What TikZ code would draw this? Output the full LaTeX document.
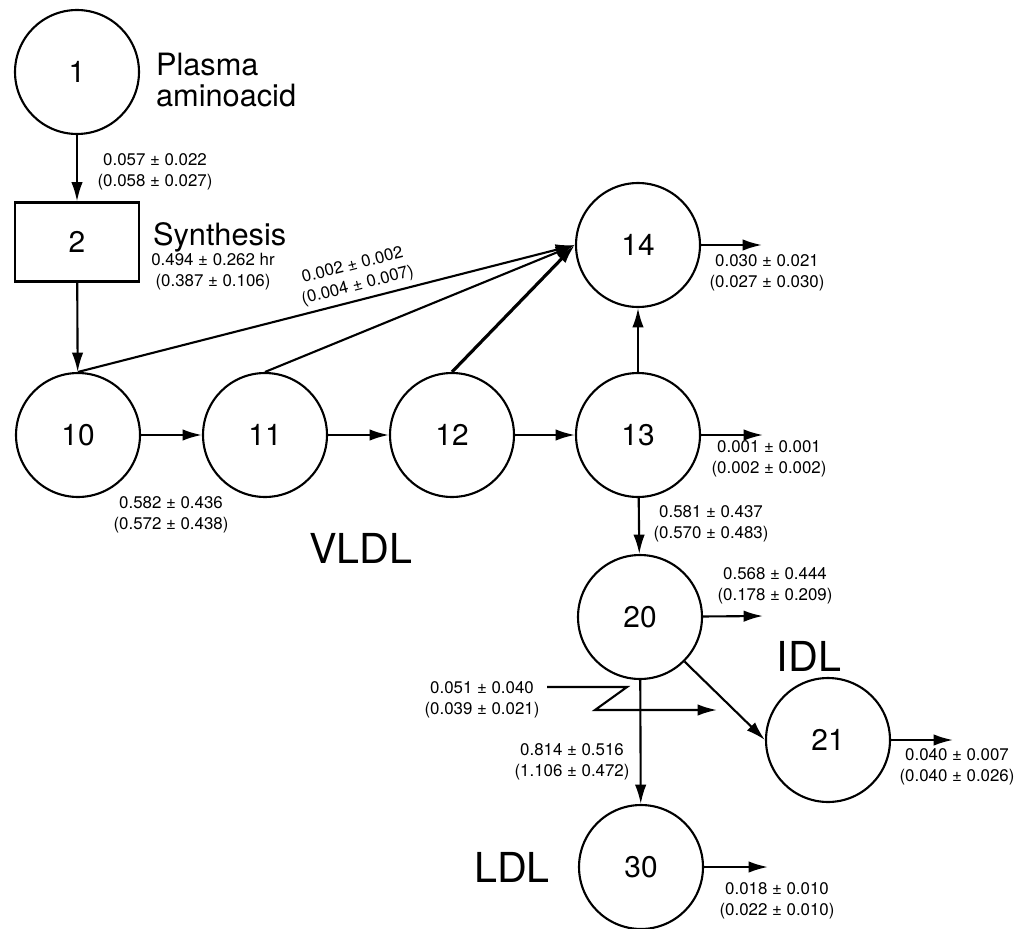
\documentclass[tikz,border=0pt]{standalone}
\usepackage{fontspec}
\setmainfont{TeX Gyre Heros}
\usetikzlibrary{arrows.meta,positioning,calc}

\begin{document}
\begin{tikzpicture}[x=0.02cm, y=-0.02cm, >={Latex[length=11pt,width=6.5pt]}, line width=1.2pt,
    pool/.style={draw, circle, minimum size=2.48cm, inner sep=0pt, font=\fontsize{17}{18}\selectfont},
    rate/.style={align=center, inner sep=1pt, font=\fontsize{9.6}{11.8}\selectfont},
    tag/.style={font=\fontsize{23.5}{26}\selectfont}]
    \useasboundingbox (0,0) rectangle (1017,929);

    % plasma and synthesis
    \node[pool] (c1) at (77,72) {1};
    \node[draw, minimum width=2.48cm, minimum height=1.58cm, font=\fontsize{17}{18}\selectfont] (b2) at (77,242) {2};
    \node[anchor=west, align=left, inner sep=0pt, font=\fontsize{17.5}{17.5}\selectfont] (plasma) at (155,80) {Plasma\\aminoacid};
    \node[anchor=base west, inner sep=0pt, font=\fontsize{17.5}{18}\selectfont] (synth) at (152,245) {Synthesis};
    \node[rate] (hr) at (213,272) {0.494 ± 0.262 hr\\(0.387 ± 0.106)};

    % VLDL pools
    \node[pool] (c10) at (78,435) {10};
    \node[pool] (c11) at (265,435) {11};
    \node[pool] (c12) at (452,435) {12};
    \node[pool] (c13) at (638,435) {13};
    \node[pool] (c14) at (638,245) {14};

    % IDL and LDL pools
    \node[pool] (c20) at (640,617) {20};
    \node[pool] (c21) at (828,740) {21};
    \node[pool] (c30) at (641,867) {30};

    \node[tag] (vldl) at (361,548) {VLDL};
    \node[tag] (idl) at (809,656) {IDL};
    \node[tag] (ldl) at (512,867) {LDL};

    % transfers
    \draw[->] (c1) -- (b2);
    \node[rate] at (155,172) {0.057 ± 0.022\\(0.058 ± 0.027)};
    \draw[->] (b2) -- (c10);
    \draw[->] (c10) -- (c11);
    \draw[->] (c11) -- (c12);
    \draw[->] (c12) -- (c13);
    \node[rate] at (171,515) {0.582 ± 0.436\\(0.572 ± 0.438)};
    \draw[->] (c10.north) -- (c14.west)
        node[rate, pos=0.57, sloped, above=2pt] {0.002 ± 0.002\\(0.004 ± 0.007)};
    \draw[->] (c11.north) -- (c14.west);
    \draw[->, line width=1.8pt] (c12.north) -- (c14.west);
    \draw[->] (c13) -- (c14);
    \draw[->] (c13) -- (c20);
    \node[rate] at (711,524) {0.581 ± 0.437\\(0.570 ± 0.483)};
    \draw[->] (c20.south east) -- (c21.west);
    \draw[->] (c20) -- (c30);
    \node[rate] at (572,762) {0.814 ± 0.516\\(1.106 ± 0.472)};

    % input to LDL
    \coordinate (z0) at (547,687);
    \coordinate (z1) at (717,710);
    \draw[->] (z0) -- (627,687) -- (595,710) -- (z1);
    \node[rate] at (482,700) {0.051 ± 0.040\\(0.039 ± 0.021)};

    % losses
    \coordinate (o14) at (762,245);
    \coordinate (o13) at (763,435);
    \coordinate (o20) at (763,616);
    \coordinate (o21) at (953,740);
    \coordinate (o30) at (768,867);
    \draw[->] (c14) -- (o14);
    \draw[->] (c13) -- (o13);
    \draw[->] (c20) -- (o20);
    \draw[->] (c21) -- (o21);
    \draw[->] (c30) -- (o30);
    \node[rate] at (767,273) {0.030 ± 0.021\\(0.027 ± 0.030)};
    \node[rate] at (769,459) {0.001 ± 0.001\\(0.002 ± 0.002)};
    \node[rate] at (775,586) {0.568 ± 0.444\\(0.178 ± 0.209)};
    \node[rate] at (957,767) {0.040 ± 0.007\\(0.040 ± 0.026)};
    \node[rate] at (777,901) {0.018 ± 0.010\\(0.022 ± 0.010)};
\end{tikzpicture}
\end{document}
